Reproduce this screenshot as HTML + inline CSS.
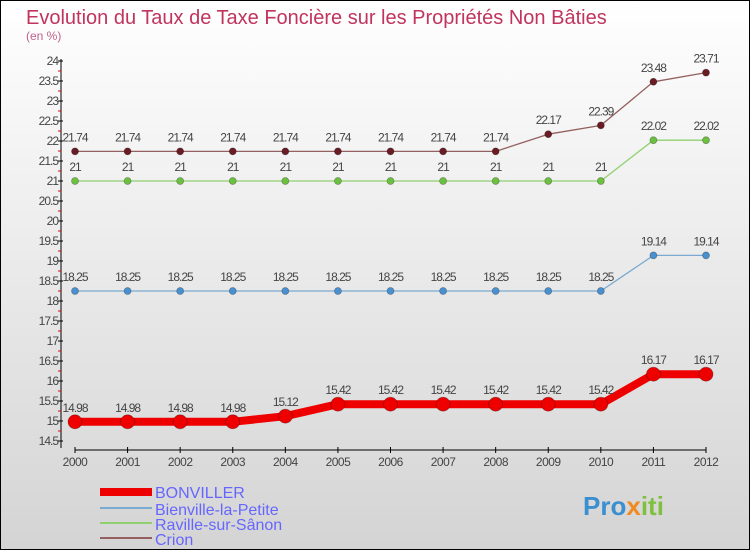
<!DOCTYPE html>
<html><head><meta charset="utf-8"><style>
body{margin:0}
#c{width:750px;height:550px;position:relative;overflow:hidden}
svg text{font-family:"Liberation Sans",sans-serif}
</style></head><body>
<div id="c">
<svg id="s" width="750" height="550" xmlns="http://www.w3.org/2000/svg">
<defs><linearGradient id="bg" x1="0" y1="0" x2="0" y2="1"><stop offset="0" stop-color="#ffffff"/><stop offset="1" stop-color="#d4d4d4"/></linearGradient></defs>
<rect x="0.5" y="0.5" width="749" height="549" fill="url(#bg)" stroke="#000"/>
<text x="26" y="24" font-size="20" fill="#c0345e">Evolution du Taux de Taxe Foncière sur les Propriétés Non Bâties</text>
<text x="26" y="40" font-size="12" fill="#c0608a">(en %)</text>
<g id="axes"></g><g id="series"></g>
<g>
<rect x="100" y="488" width="52" height="8" fill="#e00"/>
<text x="155" y="498" font-size="16" fill="#6666ff">BONVILLER</text>
<rect x="100" y="507" width="52" height="2" fill="#7aaad0"/>
<text x="155" y="515" font-size="16" fill="#6666ff">Bienville-la-Petite</text>
<rect x="100" y="522" width="52" height="2" fill="#90d070"/>
<text x="155" y="530" font-size="16" fill="#6666ff">Raville-sur-Sânon</text>
<rect x="100" y="537" width="52" height="2" fill="#946060"/>
<text x="155" y="545" font-size="16" fill="#6666ff">Crion</text>
</g>
<g>
<text x="583" y="515" font-size="26" font-weight="bold" fill="#3a8fd0">Pro<tspan fill="#f08a20">x</tspan><tspan fill="#80c040">iti</tspan></text>
</g>
</svg></div>
<script>
const years=[2000,2001,2002,2003,2004,2005,2006,2007,2008,2009,2010,2011,2012];
const bonviller=[14.98,14.98,14.98,14.98,15.12,15.42,15.42,15.42,15.42,15.42,15.42,16.17,16.17];
const bienville=[18.25,18.25,18.25,18.25,18.25,18.25,18.25,18.25,18.25,18.25,18.25,19.14,19.14];
const raville=[21,21,21,21,21,21,21,21,21,21,21,22.02,22.02];
const crion=[21.74,21.74,21.74,21.74,21.74,21.74,21.74,21.74,21.74,22.17,22.39,23.48,23.71];
const yTicks=[14.5,15,15.5,16,16.5,17,17.5,18,18.5,19,19.5,20,20.5,21,21.5,22,22.5,23,23.5,24];
const NS="http://www.w3.org/2000/svg";
const X=i=>75+i*(706-75)/12;
const Y=v=>421-(v-15)*40;
function mk(t,a,p){const e=document.createElementNS(NS,t);for(const k in a)e.setAttribute(k,a[k]);p.appendChild(e);return e;}
const ax=document.getElementById('axes');
let l=mk('line',{x1:61,y1:59,x2:61,y2:448,stroke:'#000'},ax);


l=mk('line',{x1:75,y1:450,x2:706,y2:450,stroke:'#000'},ax);


yTicks.forEach((v,i)=>{
 const y=Y(v);
 mk('line',{x1:58,y1:y,x2:63,y2:y,stroke:'#000'},ax);
 if(i<yTicks.length-1) mk('line',{x1:58,y1:Y(v+0.25),x2:61,y2:Y(v+0.25),stroke:'#e00'},ax);
 const t=mk('text',{x:58,y:y+4,'font-size':12,fill:'#444','text-anchor':'end','letter-spacing':'-1'},ax);
 t.textContent=String(v);
 
 
});
years.forEach((yr,i)=>{
 mk('line',{x1:X(i),y1:447,x2:X(i),y2:453,stroke:'#000'},ax);
 const t=mk('text',{x:X(i),y:466,'font-size':12,fill:'#444','text-anchor':'middle','letter-spacing':'-0.5'},ax);
 t.textContent=yr;
 
 
});
const sg=document.getElementById('series');
function series(name,vals,color,w,r,dot){
 const g=mk('g',{},sg);
 
 
 const p=mk('polyline',{points:vals.map((v,i)=>X(i)+','+Y(v)).join(' '),fill:'none',stroke:color,'stroke-width':w,'stroke-linejoin':'round'},g);
 
 
 vals.forEach((v,i)=>{
  const c=mk('circle',{cx:X(i),cy:Y(v),r:r,fill:dot,stroke:'rgba(0,0,0,0.3)','stroke-width':0.8},g);
  
  
  const t=mk('text',{x:X(i),y:Y(v)-10,'font-size':12,fill:'#444','text-anchor':'middle','letter-spacing':'-1'},g);
  t.textContent=String(v);
  
  
 });
}
series('crion',crion,'#946060',1.3,3.5,'#6a1c24');
series('raville',raville,'#90d070',1.3,3.5,'#6cc040');
series('bienville',bienville,'#7aaad0',1.3,3.5,'#4a90d0');
series('bonviller',bonviller,'#e00',8,7,'#e00');
</script>
</body></html>
